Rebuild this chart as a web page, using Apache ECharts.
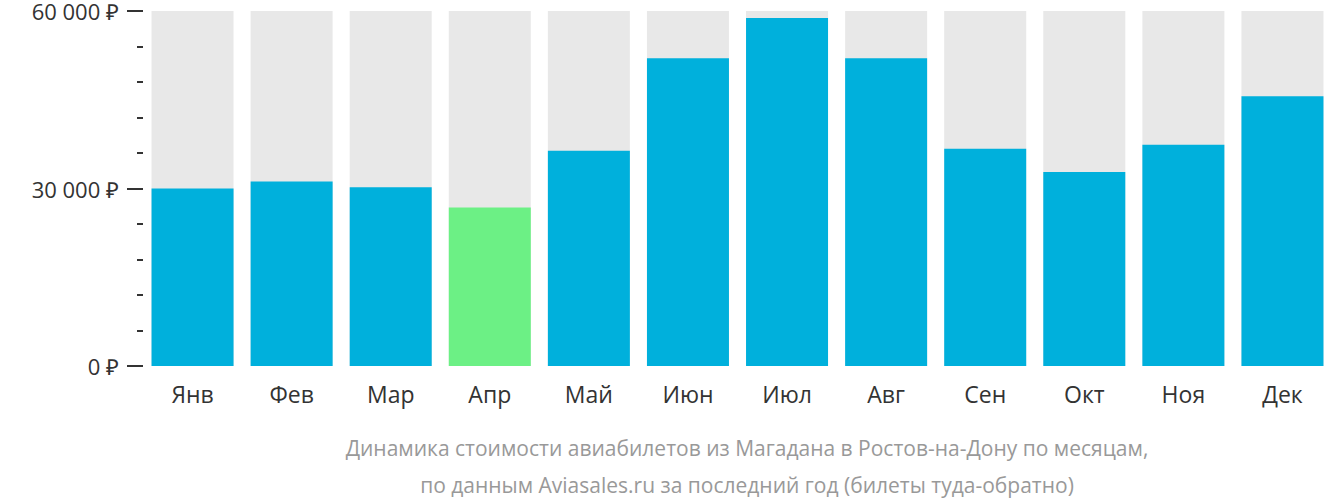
<!DOCTYPE html>
<html><head><meta charset="utf-8">
<script src="https://cdn.jsdelivr.net/npm/echarts@6/dist/echarts.min.js"></script>
<style>html,body{margin:0;padding:0;background:#fff}#c{width:1332px;height:502px}</style>
</head><body><div id="c"></div>
<script>
var months = ['Янв','Фев','Мар','Апр','Май','Июн','Июл','Авг','Сен','Окт','Ноя','Дек'];
var prices = [30000, 31200, 30200, 26800, 36400, 52000, 58800, 52000, 36700, 32800, 37400, 45600];
var cheapest = 3;
var tickLabels = { 0: '0 ₽', 30000: '30 000 ₽', 60000: '60 000 ₽' };

var chart = echarts.init(document.getElementById('c'), null, { renderer: 'svg' });
chart.setOption({
  animation: false,
  textStyle: { fontFamily: 'Open Sans' },
  grid: { left: 143, right: -11, top: 8, bottom: 136 },
  title: {
    text: 'Динамика стоимости авиабилетов из Магадана в Ростов-на-Дону по месяцам,\nпо данным Aviasales.ru за последний год (билеты туда-обратно)',
    left: 742, top: 424, textAlign: 'center',
    textStyle: { color: '#999', fontSize: 21, fontWeight: 'normal', lineHeight: 37, fontFamily: 'Open Sans' }
  },
  xAxis: {
    type: 'category', data: months,
    axisLine: { show: false }, axisTick: { show: false },
    axisLabel: { color: '#333', fontSize: 23, margin: 16 }
  },
  yAxis: {
    type: 'value', min: 0, max: 60000, interval: 30000,
    axisLine: { show: false },
    axisTick: { show: true, length: 16, lineStyle: { color: '#333', width: 2 } },
    minorTick: { show: true, splitNumber: 5, length: 6, lineStyle: { color: '#333', width: 2 } },
    splitLine: { show: false },
    axisLabel: { color: '#333', fontSize: 22, margin: 24, formatter: function (v) { return tickLabels[v] || ''; } }
  },
  series: [{
    type: 'bar', barWidth: 82,
    showBackground: true, backgroundStyle: { color: '#e8e8e8' },
    data: prices.map(function (v, i) {
      return { value: v, itemStyle: { color: i === cheapest ? '#6cf085' : '#00b0dc' } };
    })
  }]
});
</script></body></html>
